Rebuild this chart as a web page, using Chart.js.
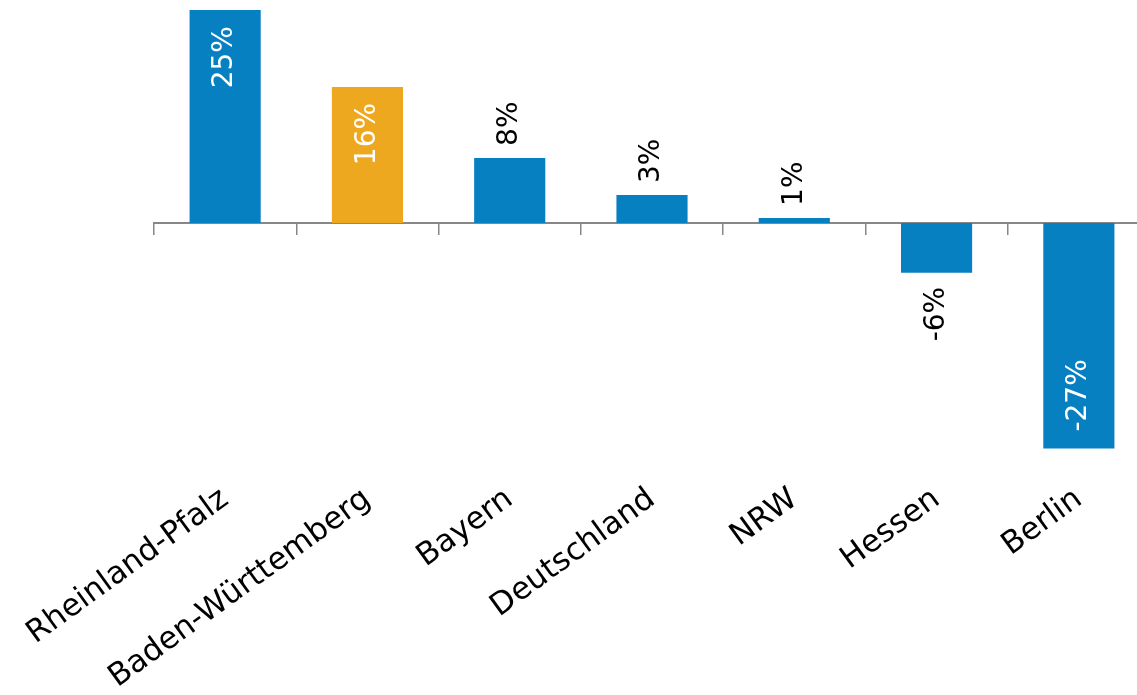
<!DOCTYPE html>
<html>
<head>
<meta charset="utf-8">
<script src="https://cdn.jsdelivr.net/npm/chart.js@4/dist/chart.umd.min.js"></script>
<style>
  html, body { margin: 0; padding: 0; background: #fff; overflow: hidden; }
</style>
</head>
<body>
<canvas id="myChart" width="1150" height="695"></canvas>
<script>
const categories = ['Rheinland-Pfalz', 'Baden-Württemberg', 'Bayern', 'Deutschland', 'NRW', 'Hessen', 'Berlin'];
const values = [25.2, 16.1, 7.7, 3.3, 0.6, -5.9, -26.7];
const valueLabels = ['25%', '16%', '8%', '3%', '1%', '-6%', '-27%'];

const blue = '#0780c2';
const orange = '#eea820';
const barColors = categories.map(c => c === 'Baden-Württemberg' ? orange : blue);

// Prozentwerte senkrecht an die Balken schreiben
const valueLabelPlugin = {
  id: 'valueLabels',
  afterDatasetsDraw(chart) {
    const ctx = chart.ctx;
    const meta = chart.getDatasetMeta(0);
    ctx.save();
    ctx.font = '28px "DejaVu Sans", Verdana, sans-serif';
    ctx.textBaseline = 'middle';
    meta.data.forEach((bar, i) => {
      const v = values[i];
      const inside = Math.abs(v) > 10;
      let y, align;
      if (v >= 0) {
        if (inside) { y = bar.y + 16; align = 'right'; }
        else { y = bar.y - 12; align = 'left'; }
      } else {
        if (inside) { y = bar.y - 17; align = 'left'; }
        else { y = bar.y + 14; align = 'right'; }
      }
      ctx.fillStyle = inside ? '#ffffff' : '#000000';
      ctx.save();
      ctx.translate(bar.x, y);
      ctx.rotate(-Math.PI / 2);
      ctx.textAlign = align;
      ctx.fillText(valueLabels[i], 0, 0);
      ctx.restore();
    });
    ctx.restore();
  }
};

const ctx = document.getElementById('myChart');

new Chart(ctx, {
  type: 'bar',
  data: {
    labels: categories,
    datasets: [{
      data: values,
      backgroundColor: barColors,
      borderWidth: 0,
      barPercentage: 0.5,
      categoryPercentage: 1.0
    }]
  },
  plugins: [valueLabelPlugin],
  options: {
    responsive: false,
    animation: false,
    layout: { padding: { left: 154, right: 0, top: 0, bottom: 0 } },
    plugins: {
      legend: { display: false },
      tooltip: { enabled: false }
    },
    scales: {
      x: {
        offset: true,
        grid: { display: false },
        border: { display: false },
        ticks: {
          autoSkip: false,
          minRotation: 36,
          maxRotation: 36,
          padding: 0,
          color: '#000000',
          font: { family: '"DejaVu Sans", Verdana, sans-serif', size: 31 }
        },
        afterFit(scale) { scale.height = 222; }
      },
      zeroAxis: {
        axis: 'x',
        type: 'category',
        position: { y: 0 },
        offset: true,
        grid: {
          offset: true,
          drawOnChartArea: false,
          drawTicks: true,
          tickLength: 11,
          color: '#878787',
          lineWidth: 1.5
        },
        border: { display: true, color: '#878787', width: 2 },
        ticks: { display: false }
      },
      y: {
        display: false,
        min: -29.59,
        max: 26.39
      }
    }
  }
});
</script>
</body>
</html>
